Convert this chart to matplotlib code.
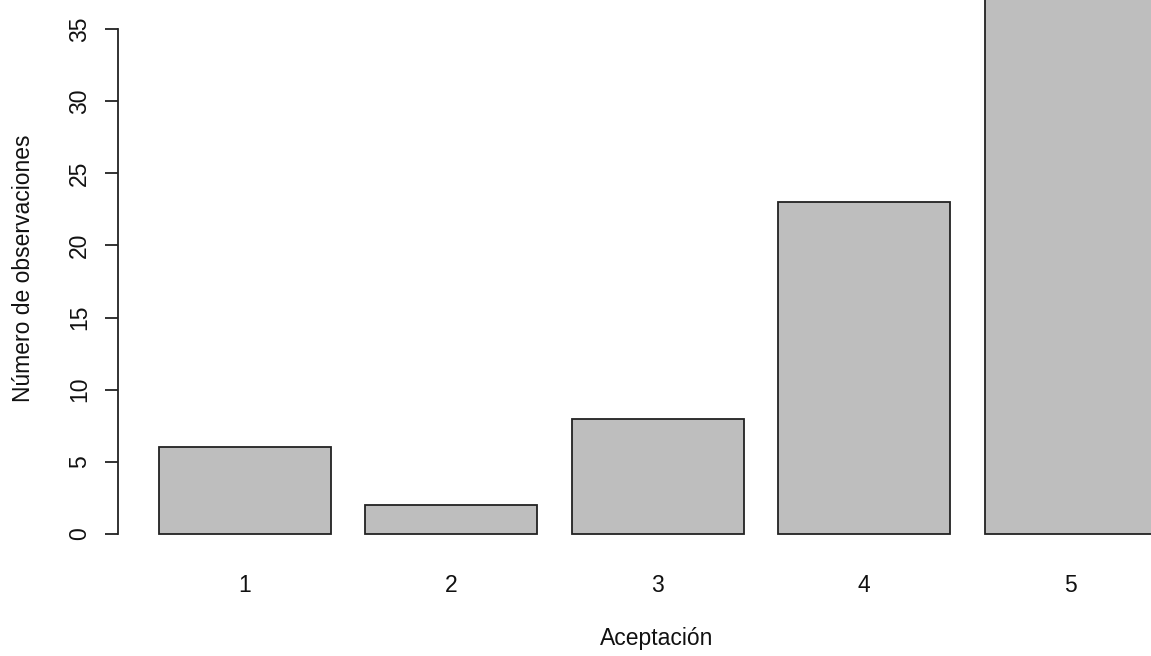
"""
Barplot estilo R: número de observaciones por nivel de aceptación
"""

import matplotlib
import matplotlib.pyplot as plt

matplotlib.rcParams['font.family'] = ['Liberation Sans', 'DejaVu Sans']

# --- datos ---
categories = ['1', '2', '3', '4', '5']
counts = [6, 2, 8, 23, 40]   # la barra 5 está recortada en la imagen original
y_ticks = [0, 5, 10, 15, 20, 25, 30, 35]

# --- geometría tipo barplot de R (width=1, space=0.2) ---
W, H = 1151, 656
fig = plt.figure(figsize=(W / 100, H / 100), dpi=100)

# ejes en píxeles: izquierda 118, derecha 1151, arriba 0, abajo 560
ax = fig.add_axes([118 / W, 1 - 560 / H, (W - 118) / W, 560 / H])

lefts = [0.2 + 1.2 * i for i in range(len(counts))]
centers = [l + 0.5 for l in lefts]

ax.bar(centers, counts, width=1.0, color='#BEBEBE', edgecolor='#222222',
       linewidth=1.3)

# escala: 172 px por unidad en x, 14.43 px por unidad en y, y=0 en el píxel 534
ax.set_xlim((118 - 124.6) / 172, (W - 124.6) / 172)
ax.set_ylim((534 - 560) / 14.43, 534 / 14.43)

# eje y: sólo la línea de 0 a 35, etiquetas verticales
for s in ['top', 'right', 'bottom']:
    ax.spines[s].set_visible(False)
ax.spines['left'].set_bounds(0, 35)
ax.spines['left'].set_linewidth(1.3)
ax.spines['left'].set_color('#222222')
ax.set_yticks(y_ticks)
ax.set_yticklabels([str(t) for t in y_ticks], rotation=90, va='center')
ax.tick_params(axis='y', length=9.4, width=1.3, color='#222222',
               pad=10, labelsize=16.5, labelcolor='#111111')

# eje x: sin línea ni marcas, sólo nombres
ax.set_xticks(centers)
ax.set_xticklabels(categories)
ax.tick_params(axis='x', length=0, pad=10, labelsize=16.5,
               labelcolor='#111111')

# títulos de ejes en posiciones fijas
fig.text(657 / W, 1 - 638 / H, 'Aceptación', ha='center', va='center',
         fontsize=16.5, color='#111111')
fig.text(24 / W, 1 - 268 / H, 'Número de observaciones', ha='center',
         va='center', rotation=90, fontsize=16.5, color='#111111')

fig.savefig('out.png', dpi=100)
plt.close(fig)
